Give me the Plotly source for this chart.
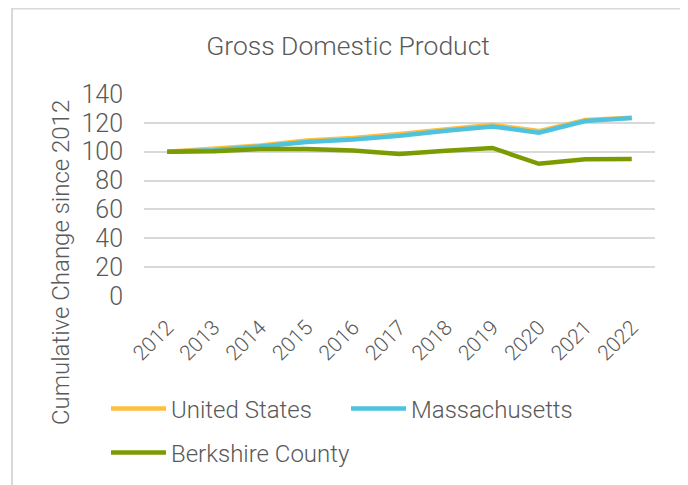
import plotly.graph_objects as go

years = ["2012", "2013", "2014", "2015", "2016", "2017", "2018", "2019", "2020", "2021", "2022"]
us = [100, 101.8, 104.3, 107.8, 109.5, 112.2, 115.6, 118.6, 114.3, 122.0, 123.6]
ma = [100, 101.1, 103.6, 106.8, 108.5, 111.0, 114.5, 117.5, 113.2, 121.3, 123.3]
berkshire = [100, 100.4, 101.9, 101.8, 100.8, 98.4, 100.6, 102.6, 91.6, 94.7, 94.9]
y_ticks = [0, 20, 40, 60, 80, 100, 120, 140]

FONT = "Roboto Light, Roboto, sans-serif"
GREY = "#595959"

# the page body has an 8px default margin, so figure coordinates = page - 8
W, H = 680, 477
L, R, T, B = 136, 647, 86, 288
pw, ph = R - L, B - T


def px_x(x):
    return (x - L) / pw


def px_y(y):
    return (B - y) / ph


fig = go.Figure()
fig.add_trace(go.Scatter(x=years, y=us, name="United States", mode="lines",
                         line=dict(color="#FFBE3D", width=4.5), legend="legend"))
fig.add_trace(go.Scatter(x=years, y=ma, name="Massachusetts", mode="lines",
                         line=dict(color="#4EC3E0", width=4.5), legend="legend"))
fig.add_trace(go.Scatter(x=years, y=berkshire, name="Berkshire County", mode="lines",
                         line=dict(color="#7A9C01", width=4.5), legend="legend2"))

legend_common = dict(orientation="h", xanchor="left", yanchor="middle",
                     font=dict(family=FONT, size=24, color=GREY),
                     bgcolor="rgba(0,0,0,0)", entrywidthmode="pixels",
                     itemwidth=55)

fig.update_layout(
    width=W, height=H,
    margin=dict(l=L, r=W - R, t=T, b=H - B, pad=0, autoexpand=False),
    paper_bgcolor="white", plot_bgcolor="white",
    title=dict(text="Gross Domestic Product", x=0.5, xref="container", xanchor="center",
               y=1 - 38 / H, yref="container", yanchor="middle",
               font=dict(family=FONT, size=26.5, color=GREY)),
    xaxis=dict(type="category", range=[-0.5, len(years) - 0.5], tickangle=-45,
               showgrid=False, zeroline=False, showline=False, ticks="",
               ticklabelstandoff=14,
               tickfont=dict(family=FONT, size=21, color=GREY)),
    yaxis=dict(range=[0, 140], tickvals=y_ticks, showgrid=True, gridcolor="#D9D9D9",
               gridwidth=1.5, zeroline=False, showline=False, ticks="",
               ticklabelstandoff=20,
               tickfont=dict(family=FONT, size=25, color=GREY)),
    legend=dict(x=px_x(98), y=px_y(401), entrywidth=170, **legend_common),
    legend2=dict(x=px_x(98), y=px_y(445), entrywidth=260, **legend_common),
    showlegend=True,
    shapes=[dict(type="rect", xref="paper", yref="paper",
                 x0=px_x(4), x1=px_x(675.5), y0=px_y(500), y1=px_y(0.5),
                 line=dict(color="#D9D9D9", width=2), fillcolor="rgba(0,0,0,0)",
                 layer="below")],
    annotations=[dict(text="Cumulative Change since 2012", textangle=-90,
                      xref="paper", yref="paper", x=px_x(53), y=px_y(255),
                      xanchor="center", yanchor="middle", showarrow=False,
                      font=dict(family=FONT, size=24, color=GREY))],
)

fig.write_html("out.html")
